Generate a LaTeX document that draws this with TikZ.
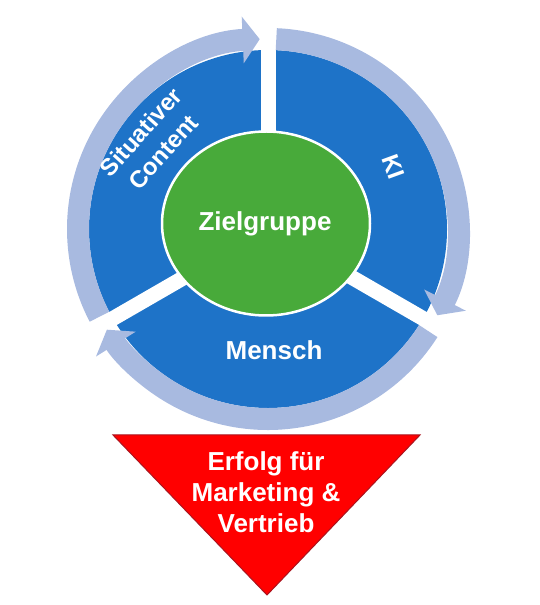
\documentclass[tikz,border=0pt]{standalone}
\usepackage{fontspec}
\setmainfont{Liberation Sans}
\usetikzlibrary{arrows.meta}
\definecolor{cycleblue}{RGB}{30,115,200}
\definecolor{ringpale}{RGB}{168,186,224}
\definecolor{centregreen}{RGB}{72,170,58}
\definecolor{goalred}{RGB}{255,0,0}
\definecolor{goalrim}{RGB}{170,20,30}

\begin{document}
\begin{tikzpicture}[x=1pt,y=1pt,
  every node/.style={text=white,font=\bfseries\fontsize{26}{31}\selectfont,align=center},
  ringarrow/.style={ringpale,line width=22pt,-{Triangle[width=46pt,length=17pt]}}]
\useasboundingbox (0,0) rectangle (540,605);
\def\rb{179}
\def\rr{190}
\def\gap{15pt}
\coordinate (O) at (268,376);
\fill[cycleblue] (O) circle [radius=\rb];

\foreach \a in {90,-30,210}{
	\draw[white,line width=\gap] (O) -- +(\a:215);
}

\draw[ringarrow] (O) ++(207.5:\rr) arc [start angle=207.5,end angle=92.5,radius=\rr];
\draw[ringarrow] (O) ++(87.5:\rr) arc [start angle=87.5,end angle=-27,radius=\rr];
\draw[ringarrow] (O) ++(-32.5:\rr) arc [start angle=-32.5,end angle=-148,radius=\rr];

\fill[centregreen,draw=white,line width=2.5pt] (266,381.5) ellipse [x radius=104,y radius=92];

\node (zielgruppe) at (265,381) {Zielgruppe};
\node (mensch) at (274,254.5) {Mensch};
\node[rotate=-70,font=\bfseries\fontsize{24}{30}\selectfont] (ki) at (393,438) {KI};
\node[rotate=48,font=\bfseries\fontsize{24}{30}\selectfont] (content) at (152,463) {Situativer\\Content};

\fill[goalred,draw=goalrim,line width=1pt] (113,170) -- (420,170) -- (267,10) -- cycle;
\node (erfolg) at (266,113) {Erfolg für\\Marketing \&\\Vertrieb};

\end{tikzpicture}
\end{document}
